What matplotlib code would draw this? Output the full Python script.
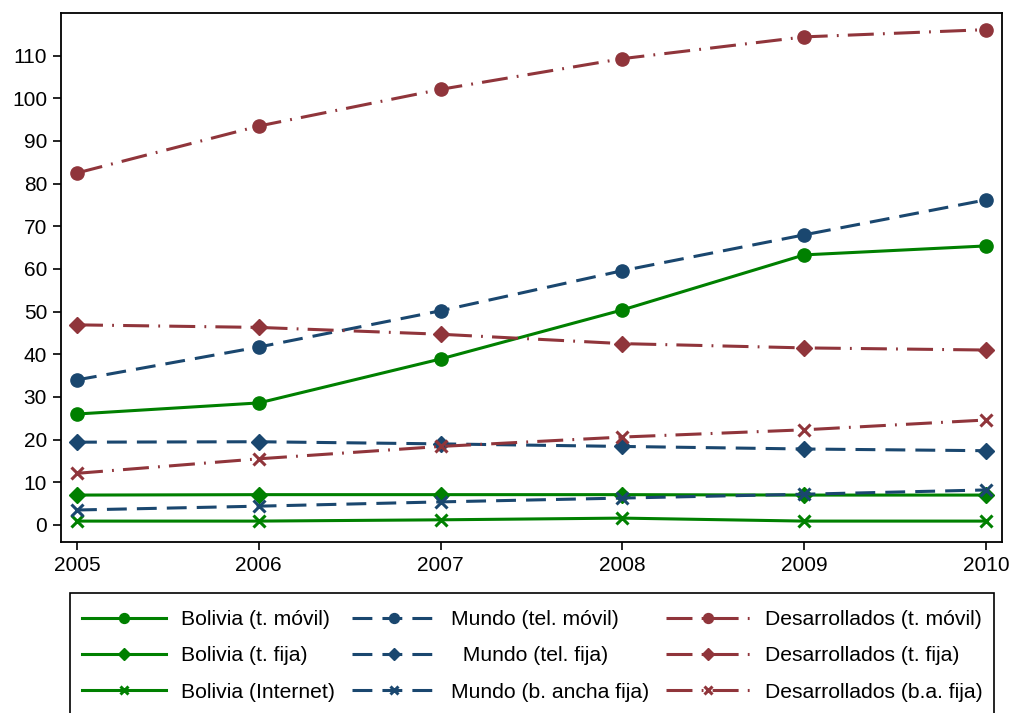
import matplotlib
matplotlib.use("Agg")
import matplotlib.pyplot as plt
from matplotlib.patches import Rectangle
import numpy as np

plt.rcParams['font.family'] = ['Liberation Sans', 'DejaVu Sans']

years = [2005, 2006, 2007, 2008, 2009, 2010]

bol_movil = [26.0, 28.6, 38.9, 50.4, 63.3, 65.4]
bol_fija = [7.0, 7.1, 7.1, 7.1, 7.0, 7.0]
bol_internet = [0.9, 0.9, 1.2, 1.6, 0.9, 0.9]

mundo_movil = [34.0, 41.7, 50.2, 59.6, 68.0, 76.2]
mundo_fija = [19.4, 19.5, 19.0, 18.4, 17.8, 17.4]
mundo_banda = [3.5, 4.4, 5.4, 6.3, 7.2, 8.2]

des_movil = [82.5, 93.5, 102.1, 109.3, 114.4, 116.1]
des_fija = [46.9, 46.3, 44.7, 42.5, 41.5, 41.0]
des_banda = [12.1, 15.5, 18.4, 20.6, 22.3, 24.6]

green = '#008000'
navy = '#1a476f'
maroon = '#90353b'

dashed = (0, (6.5, 3.3))
dashdot = (0, (8.5, 3, 0.6, 3))

series = [
    (bol_movil, green, '-', 'o', 'Bolivia (t. móvil)'),
    (bol_fija, green, '-', 'D', 'Bolivia (t. fija)'),
    (bol_internet, green, '-', 'x', 'Bolivia (Internet)'),
    (mundo_movil, navy, dashed, 'o', 'Mundo (tel. móvil)'),
    (mundo_fija, navy, dashed, 'D', '  Mundo (tel. fija)'),
    (mundo_banda, navy, dashed, 'x', 'Mundo (b. ancha fija)'),
    (des_movil, maroon, dashdot, 'o', 'Desarrollados (t. móvil)'),
    (des_fija, maroon, dashdot, 'D', 'Desarrollados (t. fija)'),
    (des_banda, maroon, dashdot, 'x', 'Desarrollados (b.a. fija)'),
]

W, H = 1009, 713
fig = plt.figure(figsize=(W / 100, H / 100), dpi=100)
ax = fig.add_axes([61 / W, 1 - 542 / H, 941 / W, 529 / H])

handles = []
for vals, col, ls, mk, lab in series:
    size = {'o': 9.5, 'D': 8.5, 'x': 8}[mk]
    h, = ax.plot(years, vals, color=col, linestyle=ls, linewidth=2.2,
                 marker=mk, markersize=size, markeredgewidth=2.2 if mk == 'x' else 1,
                 label=lab)
    handles.append(h)

ax.set_xlim(2004.912, 2010.088)
ax.set_ylim(-4, 120)
ax.set_xticks(years)
ax.set_yticks(np.arange(0, 111, 10))
ax.tick_params(labelsize=15, length=6, width=1.2, direction='out', pad=4)
for s in ax.spines.values():
    s.set_linewidth(1.3)

# legend box runs past the bottom edge of the figure
fig.patches.append(Rectangle((70 / W, -0.05), (994 - 70) / W, 0.05 + 1 - 593 / H,
                             transform=fig.transFigure, fill=False,
                             edgecolor='black', linewidth=1.2))

leg = fig.legend(handles=handles, ncol=3, loc='upper left',
                 bbox_to_anchor=(82 / W, 1 - 610 / H),
                 fontsize=15.2, frameon=False,
                 handlelength=4.0, handletextpad=0.7, columnspacing=0.8,
                 labelspacing=0.82, markerscale=0.75, borderaxespad=0,
                 borderpad=0)

fig.savefig('out.png', dpi=100)
